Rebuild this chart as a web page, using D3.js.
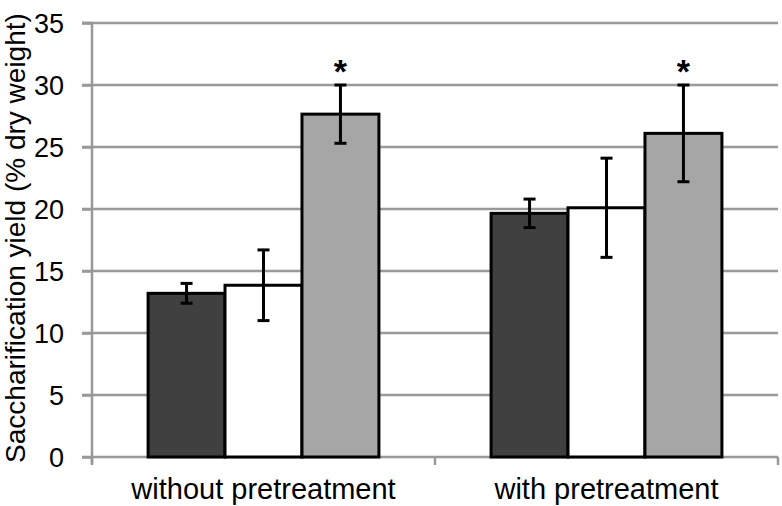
<!DOCTYPE html>
<html><head><meta charset="utf-8">
<script src="https://cdn.jsdelivr.net/npm/d3@7"></script>
<style>body{margin:0;background:#fff}svg{display:block}text{font-family:"Liberation Sans",Arial,sans-serif}</style>
</head><body><svg id="c" width="782" height="506"></svg>
<script>
const categories = ["without pretreatment", "with pretreatment"];
const series = ["dark", "white", "gray"];
const means = [[13.2, 13.85, 27.65], [19.65, 20.1, 26.1]];
const errors = [[0.8, 2.85, 2.35], [1.15, 4.0, 3.9]];
const significant = [[false, false, true], [false, false, true]];
const yTicks = [0, 5, 10, 15, 20, 25, 30, 35];
const fills = ["#404040", "#ffffff", "#a6a6a6"];

(function () {
const svg = d3.select("#c");
const mLeft = 92, mRight = 778, mTop = 23, mBottom = 457;
const y = d3.scaleLinear().domain([0, 35]).range([mBottom, mTop]);
const x0 = d3.scaleBand().domain(categories).range([mLeft, mRight]).paddingInner(0).paddingOuter(0);
const x1 = d3.scaleBand().domain(series).range([0, x0.bandwidth() * 0.673]);
const gOff = x0.bandwidth() * (1 - 0.673) / 2;
const grey = "#999999";

// gridlines
svg.append("g").selectAll("line").data(yTicks.filter(d => d > 0)).join("line")
  .attr("x1", mLeft - 10).attr("x2", mRight).attr("y1", d => y(d)).attr("y2", d => y(d))
  .attr("stroke", grey).attr("stroke-width", 2.5);

// y axis
const yAxis = d3.axisLeft(y).tickValues(yTicks).tickSize(10).tickPadding(18);
const ya = svg.append("g").attr("transform", `translate(${mLeft},0)`).call(yAxis);
ya.select(".domain").attr("stroke", grey).attr("stroke-width", 2.5).attr("d", `M-10,${mTop}H0V${mBottom+7}`);
ya.selectAll(".tick line").attr("stroke", grey).attr("stroke-width", 2.5);
ya.selectAll(".tick text").attr("font-size", 27).attr("fill", "#000").attr("dy", "0.34em")
  .attr("font-family", "Liberation Sans, Arial, sans-serif");

// x axis
const xa = svg.append("g").attr("transform", `translate(0,${mBottom})`);
xa.append("line").attr("x1", mLeft - 10).attr("x2", mRight).attr("y1", 0).attr("y2", 0).attr("stroke", grey).attr("stroke-width", 2.5);
const bounds = [mLeft, mLeft + x0.bandwidth(), mRight];
xa.selectAll("line.t").data(bounds).join("line").attr("class", "t")
  .attr("x1", d => d).attr("x2", d => d).attr("y1", 0).attr("y2", 8).attr("stroke", grey).attr("stroke-width", 2.5);
xa.selectAll("text").data(categories).join("text")
  .attr("x", d => x0(d) + x0.bandwidth() / 2).attr("y", 42)
  .attr("text-anchor", "middle").attr("font-size", 29).attr("fill", "#000").text(d => d);

// bars
categories.forEach((c, ci) => {
  const g = svg.append("g").attr("transform", `translate(${x0(c) + gOff},0)`);
  series.forEach((s, si) => {
    const v = means[ci][si], e = errors[ci][si];
    const bx = x1(s), bw = x1.bandwidth();
    g.append("rect").attr("x", bx).attr("y", y(v)).attr("width", bw).attr("height", y(0) - y(v))
      .attr("fill", fills[si]).attr("stroke", "#000").attr("stroke-width", 3);
    const cx = bx + bw / 2;
    g.append("line").attr("x1", cx).attr("x2", cx).attr("y1", y(v + e)).attr("y2", y(v - e)).attr("stroke", "#000").attr("stroke-width", 3);
    [v + e, v - e].forEach(t => g.append("line").attr("x1", cx - 6).attr("x2", cx + 6).attr("y1", y(t)).attr("y2", y(t)).attr("stroke", "#000").attr("stroke-width", 3));
    if (significant[ci][si]) {
      g.append("text").attr("x", cx).attr("y", y(v + e) - 2).attr("text-anchor", "middle")
        .attr("font-size", 34).attr("font-weight", "bold").attr("fill", "#000").text("*");
    }
  });
});

// y label
svg.append("text").attr("transform", `translate(25,238) rotate(-90)`)
  .attr("text-anchor", "middle").attr("font-size", 28).attr("fill", "#000")
  .text("Saccharification yield (% dry weight)");
})();
</script></body></html>
